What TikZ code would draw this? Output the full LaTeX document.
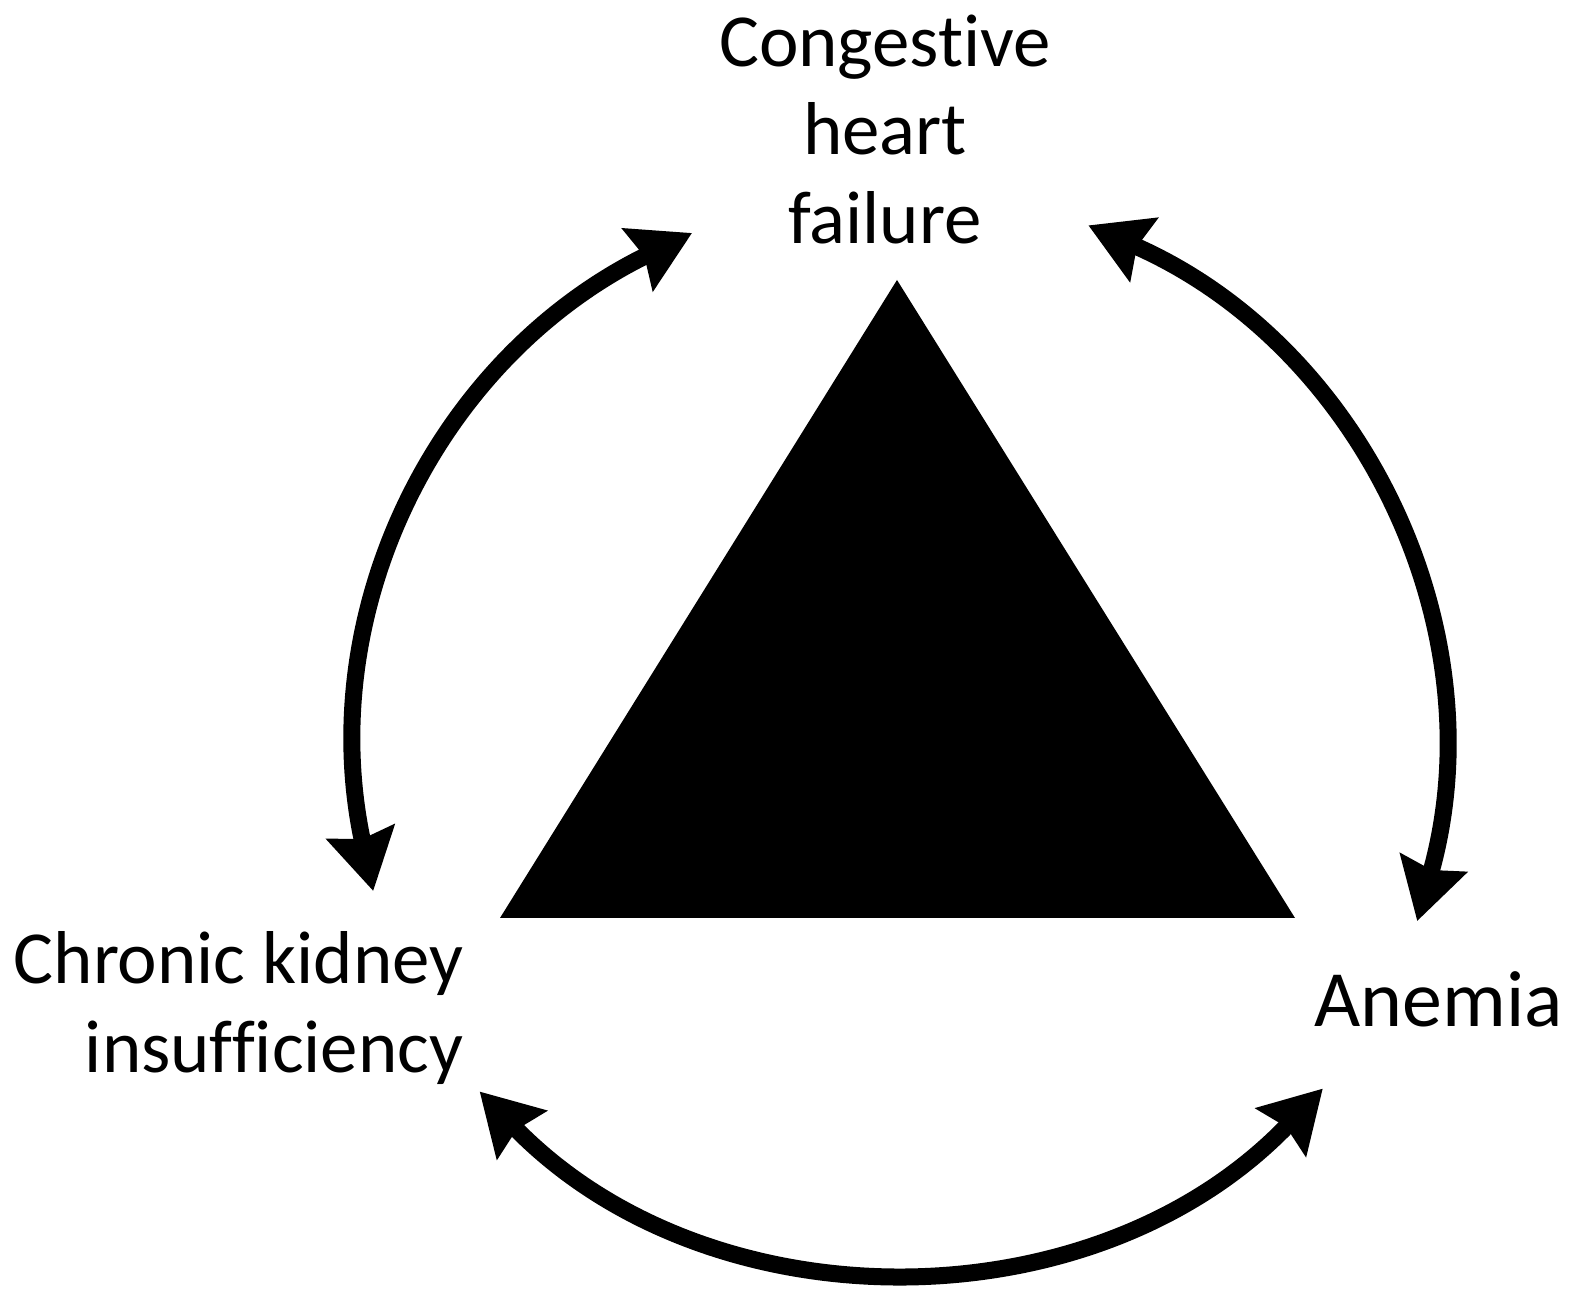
\documentclass[tikz,border=0pt]{standalone}
\usepackage{fontspec}
\setmainfont{Carlito}[Ligatures={NoCommon}]
\usetikzlibrary{arrows.meta}

\def\rad{548}

\begin{document}
\begin{tikzpicture}[x=0.01cm, y=0.01cm,
		lbl/.style={inner sep=0, font=\fontsize{21.3}{25.2}\selectfont},
		link/.style={{Stealth[length=0.6cm,width=0.68cm,inset=0.07cm]}-{Stealth[length=0.6cm,width=0.68cm,inset=0.07cm]}, line width=0.17cm}]
		\useasboundingbox (0,0) rectangle (1572,1297);
		
		\node (chf) at (885,1283) [lbl, anchor=north, align=center] {Congestive\\heart\\failure};
		\node (cki) at (464,366) [lbl, anchor=north east, align=right] {Chronic kidney\\insufficiency};
		\node (an) at (1314,270) [lbl, anchor=base west, font=\fontsize{22.7}{25.2}\selectfont] {Anemia};
		
		\fill (897,1017) -- (500,379) -- (1295,379) -- cycle;
		
		\coordinate (O) at (900,557);
		\coordinate (chfL) at ([shift={(O)}]112.3:\rad);
		\coordinate (chfR) at ([shift={(O)}]69.9:\rad);
		\coordinate (ckiT) at ([shift={(O)}]196:\rad);
		\coordinate (ckiB) at ([shift={(O)}]219.9:\rad);
		\coordinate (anT) at ([shift={(O)}]-19.3:\rad);
		\coordinate (anB) at ([shift={(O)}]-39.5:\rad);
		
		\draw[link] (chfL) to[bend right=38] (ckiT);
		\draw[link] (chfR) to[bend left=41] (anT);
		\draw[link] (ckiB) to[bend right=46] (anB);
		
	\end{tikzpicture}
\end{document}
